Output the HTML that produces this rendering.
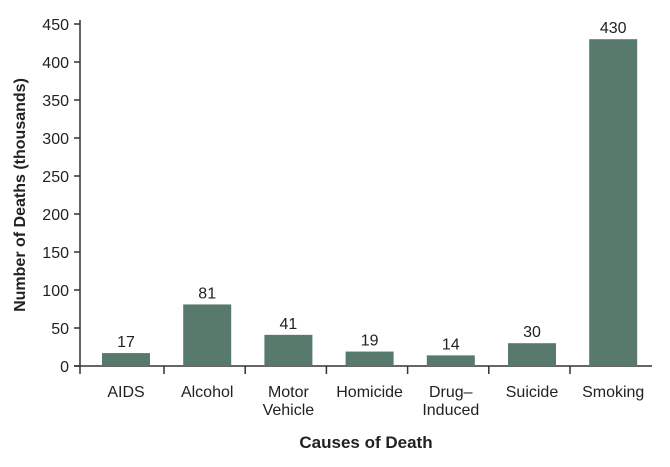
<!DOCTYPE html>
<html><head><meta charset="utf-8"><style>
body{margin:0;background:#fff;width:670px;height:462px;overflow:hidden}
svg text{font-family:"Liberation Sans",Arial,sans-serif;fill:#222}
</style></head><body>
<svg id="chart" width="670" height="462" xmlns="http://www.w3.org/2000/svg"></svg>
<script>
const categories = ["AIDS","Alcohol","Motor|Vehicle","Homicide","Drug\u2013|Induced","Suicide","Smoking"];
const values = [17,81,41,19,14,30,430];
const yTicks = [0,50,100,150,200,250,300,350,400,450];
const NS="http://www.w3.org/2000/svg";
const svg=document.getElementById('chart');
const x0=80, y0=366, yTop=24, yMax=450;
const y=v=>y0-(v/yMax)*(y0-yTop);
const cx=i=>126+i*81.2;
const bw=48;
function el(t,a,p){const e=document.createElementNS(NS,t);for(const k in a)e.setAttribute(k,a[k]);(p||svg).appendChild(e);return e;}
const ya=el('line',{x1:x0,y1:yTop-4,x2:x0,y2:y0+8,stroke:'#333','stroke-width':1.5});


const xa=el('line',{x1:x0-6,y1:y0,x2:652,y2:y0,stroke:'#333','stroke-width':1.5});


yTicks.forEach(t=>{
  el('line',{x1:x0-6,y1:y(t),x2:x0,y2:y(t),stroke:'#333','stroke-width':1.5});
  const tx=el('text',{x:x0-11,y:y(t)+6,'text-anchor':'end','font-size':16});
  tx.textContent=t;
  
  
});
categories.forEach((c,i)=>{
  if(i<categories.length-1) el('line',{x1:cx(i)+38,y1:y0,x2:cx(i)+38,y2:y0+8,stroke:'#333','stroke-width':1.5});
  const r=el('rect',{x:cx(i)-bw/2,y:y(values[i]),width:bw,height:y0-y(values[i]),fill:'#587a6c'});
  
  
  const v=el('text',{x:cx(i),y:y(values[i])-6,'text-anchor':'middle','font-size':16});
  v.textContent=values[i];
  
  
  c.split('|').forEach((ln,j)=>{
    const t=el('text',{x:cx(i),y:397+j*18,'text-anchor':'middle','font-size':16});
    t.textContent=ln;
    
    
  });
});
const xt=el('text',{x:366,y:448,'text-anchor':'middle','font-size':17,'font-weight':'bold'});
xt.textContent='Causes of Death';


const yt=el('text',{x:25,y:195,'text-anchor':'middle','font-size':16,'font-weight':'bold',transform:'rotate(-90 25 195)'});
yt.textContent='Number of Deaths (thousands)';


</script>
</body></html>
